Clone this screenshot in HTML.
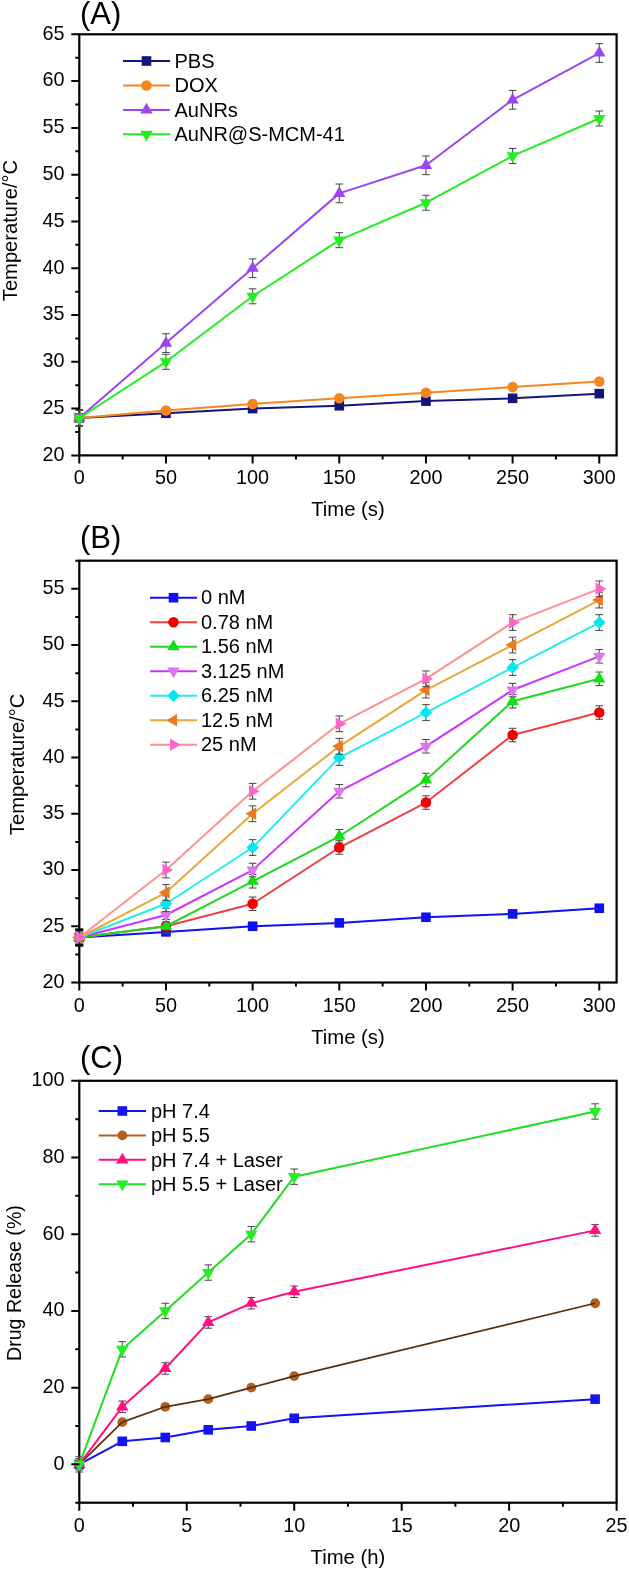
<!DOCTYPE html>
<html><head><meta charset="utf-8"><style>
html,body{margin:0;padding:0;background:#fff;width:629px;height:1572px;overflow:hidden}
svg{display:block}
#w{will-change:transform}
text{font-family:"Liberation Sans", sans-serif}
</style></head><body><div id="w">
<svg width="629" height="1572" viewBox="0 0 629 1572">
<rect width="629" height="1572" fill="#fff"/>
<rect x="79.30" y="34.30" width="537.30" height="421.10" fill="none" stroke="#000" stroke-width="2.2"/>
<path d="M79.30,417.97 L165.96,413.29 L252.62,408.61 L339.28,405.80 L425.95,401.12 L512.61,398.32 L599.27,393.64" stroke="#141480" stroke-width="2" fill="none" stroke-linejoin="round"/>
<rect x="74.50" y="413.17" width="9.60" height="9.60" fill="#141480"/>
<rect x="161.16" y="408.49" width="9.60" height="9.60" fill="#141480"/>
<rect x="247.82" y="403.81" width="9.60" height="9.60" fill="#141480"/>
<rect x="334.48" y="401.00" width="9.60" height="9.60" fill="#141480"/>
<rect x="421.15" y="396.32" width="9.60" height="9.60" fill="#141480"/>
<rect x="507.81" y="393.52" width="9.60" height="9.60" fill="#141480"/>
<rect x="594.47" y="388.84" width="9.60" height="9.60" fill="#141480"/>
<path d="M79.30,417.97 L165.96,410.48 L252.62,403.93 L339.28,398.32 L425.95,392.70 L512.61,387.09 L599.27,381.47" stroke="#f7851f" stroke-width="2" fill="none" stroke-linejoin="round"/>
<circle cx="79.30" cy="417.97" r="5.30" fill="#f7851f"/>
<circle cx="165.96" cy="410.48" r="5.30" fill="#f7851f"/>
<circle cx="252.62" cy="403.93" r="5.30" fill="#f7851f"/>
<circle cx="339.28" cy="398.32" r="5.30" fill="#f7851f"/>
<circle cx="425.95" cy="392.70" r="5.30" fill="#f7851f"/>
<circle cx="512.61" cy="387.09" r="5.30" fill="#f7851f"/>
<circle cx="599.27" cy="381.47" r="5.30" fill="#f7851f"/>
<path d="M79.30,409.55V426.39M75.50,409.55h7.6M75.50,426.39h7.6" stroke="#444" stroke-width="1" fill="none"/>
<path d="M165.96,333.75V352.46M162.16,333.75h7.6M162.16,352.46h7.6" stroke="#444" stroke-width="1" fill="none"/>
<path d="M252.62,258.89V277.60M248.82,258.89h7.6M248.82,277.60h7.6" stroke="#444" stroke-width="1" fill="none"/>
<path d="M339.28,184.02V202.74M335.48,184.02h7.6M335.48,202.74h7.6" stroke="#444" stroke-width="1" fill="none"/>
<path d="M425.95,155.95V174.67M422.15,155.95h7.6M422.15,174.67h7.6" stroke="#444" stroke-width="1" fill="none"/>
<path d="M512.61,90.45V109.16M508.81,90.45h7.6M508.81,109.16h7.6" stroke="#444" stroke-width="1" fill="none"/>
<path d="M599.27,43.66V62.37M595.47,43.66h7.6M595.47,62.37h7.6" stroke="#444" stroke-width="1" fill="none"/>
<path d="M79.30,417.97 L165.96,343.11 L252.62,268.24 L339.28,193.38 L425.95,165.31 L512.61,99.80 L599.27,53.02" stroke="#9b45f2" stroke-width="2" fill="none" stroke-linejoin="round"/>
<path d="M79.30,410.81 L85.50,421.55 L73.10,421.55Z" fill="#9b45f2"/>
<path d="M165.96,335.95 L172.16,346.69 L159.76,346.69Z" fill="#9b45f2"/>
<path d="M252.62,261.09 L258.82,271.82 L246.42,271.82Z" fill="#9b45f2"/>
<path d="M339.28,186.22 L345.48,196.96 L333.08,196.96Z" fill="#9b45f2"/>
<path d="M425.95,158.15 L432.15,168.89 L419.75,168.89Z" fill="#9b45f2"/>
<path d="M512.61,92.65 L518.81,103.38 L506.41,103.38Z" fill="#9b45f2"/>
<path d="M599.27,45.86 L605.47,56.60 L593.07,56.60Z" fill="#9b45f2"/>
<path d="M79.30,410.48V425.46M75.50,410.48h7.6M75.50,425.46h7.6" stroke="#444" stroke-width="1" fill="none"/>
<path d="M165.96,354.34V369.31M162.16,354.34h7.6M162.16,369.31h7.6" stroke="#444" stroke-width="1" fill="none"/>
<path d="M252.62,288.83V303.80M248.82,288.83h7.6M248.82,303.80h7.6" stroke="#444" stroke-width="1" fill="none"/>
<path d="M339.28,232.68V247.66M335.48,232.68h7.6M335.48,247.66h7.6" stroke="#444" stroke-width="1" fill="none"/>
<path d="M425.95,195.25V210.23M422.15,195.25h7.6M422.15,210.23h7.6" stroke="#444" stroke-width="1" fill="none"/>
<path d="M512.61,148.46V163.44M508.81,148.46h7.6M508.81,163.44h7.6" stroke="#444" stroke-width="1" fill="none"/>
<path d="M599.27,111.03V126.01M595.47,111.03h7.6M595.47,126.01h7.6" stroke="#444" stroke-width="1" fill="none"/>
<path d="M79.30,417.97 L165.96,361.82 L252.62,296.32 L339.28,240.17 L425.95,202.74 L512.61,155.95 L599.27,118.52" stroke="#22ee22" stroke-width="2" fill="none" stroke-linejoin="round"/>
<path d="M79.30,425.13 L85.50,414.39 L73.10,414.39Z" fill="#22ee22"/>
<path d="M165.96,368.98 L172.16,358.24 L159.76,358.24Z" fill="#22ee22"/>
<path d="M252.62,303.48 L258.82,292.74 L246.42,292.74Z" fill="#22ee22"/>
<path d="M339.28,247.33 L345.48,236.59 L333.08,236.59Z" fill="#22ee22"/>
<path d="M425.95,209.90 L432.15,199.16 L419.75,199.16Z" fill="#22ee22"/>
<path d="M512.61,163.11 L518.81,152.37 L506.41,152.37Z" fill="#22ee22"/>
<path d="M599.27,125.68 L605.47,114.94 L593.07,114.94Z" fill="#22ee22"/>
<text transform="translate(79.30,484.40)" font-size="19.8" text-anchor="middle" fill="#000">0</text>
<text transform="translate(165.96,484.40)" font-size="19.8" text-anchor="middle" fill="#000">50</text>
<text transform="translate(252.62,484.40)" font-size="19.8" text-anchor="middle" fill="#000">100</text>
<text transform="translate(339.28,484.40)" font-size="19.8" text-anchor="middle" fill="#000">150</text>
<text transform="translate(425.95,484.40)" font-size="19.8" text-anchor="middle" fill="#000">200</text>
<text transform="translate(512.61,484.40)" font-size="19.8" text-anchor="middle" fill="#000">250</text>
<text transform="translate(599.27,484.40)" font-size="19.8" text-anchor="middle" fill="#000">300</text>
<text transform="translate(64.50,460.70)" font-size="19.8" text-anchor="end" fill="#000">20</text>
<text transform="translate(64.50,413.91)" font-size="19.8" text-anchor="end" fill="#000">25</text>
<text transform="translate(64.50,367.12)" font-size="19.8" text-anchor="end" fill="#000">30</text>
<text transform="translate(64.50,320.33)" font-size="19.8" text-anchor="end" fill="#000">35</text>
<text transform="translate(64.50,273.54)" font-size="19.8" text-anchor="end" fill="#000">40</text>
<text transform="translate(64.50,226.76)" font-size="19.8" text-anchor="end" fill="#000">45</text>
<text transform="translate(64.50,179.97)" font-size="19.8" text-anchor="end" fill="#000">50</text>
<text transform="translate(64.50,133.18)" font-size="19.8" text-anchor="end" fill="#000">55</text>
<text transform="translate(64.50,86.39)" font-size="19.8" text-anchor="end" fill="#000">60</text>
<text transform="translate(64.50,39.60)" font-size="19.8" text-anchor="end" fill="#000">65</text>
<path d="M79.30,455.40V463.40M165.96,455.40V463.40M252.62,455.40V463.40M339.28,455.40V463.40M425.95,455.40V463.40M512.61,455.40V463.40M599.27,455.40V463.40M122.63,455.40V459.40M209.29,455.40V459.40M295.95,455.40V459.40M382.61,455.40V459.40M469.28,455.40V459.40M555.94,455.40V459.40M79.30,455.40H71.30M79.30,408.61H71.30M79.30,361.82H71.30M79.30,315.03H71.30M79.30,268.24H71.30M79.30,221.46H71.30M79.30,174.67H71.30M79.30,127.88H71.30M79.30,81.09H71.30M79.30,34.30H71.30M79.30,432.01H75.30M79.30,385.22H75.30M79.30,338.43H75.30M79.30,291.64H75.30M79.30,244.85H75.30M79.30,198.06H75.30M79.30,151.27H75.30M79.30,104.48H75.30M79.30,57.69H75.30" stroke="#000" stroke-width="2" fill="none"/>
<text transform="translate(347.95,516.40)" font-size="20.3" text-anchor="middle" fill="#000">Time (s)</text>
<text transform="translate(17.30,230.50) rotate(-90) scale(0.993,1)" font-size="20.3" text-anchor="middle" fill="#000">Temperature/°C</text>
<text transform="translate(80.00,23.60)" font-size="31" text-anchor="start" fill="#000">(A)</text>
<path d="M123.00,61.00H170.00" stroke="#141480" stroke-width="2"/>
<rect x="141.70" y="56.20" width="9.60" height="9.60" fill="#141480"/>
<text transform="translate(174.50,67.70)" font-size="20.0" text-anchor="start" fill="#000">PBS</text>
<path d="M123.00,85.45H170.00" stroke="#f7851f" stroke-width="2"/>
<circle cx="146.50" cy="85.45" r="5.30" fill="#f7851f"/>
<text transform="translate(174.50,92.15)" font-size="20.0" text-anchor="start" fill="#000">DOX</text>
<path d="M123.00,109.90H170.00" stroke="#9b45f2" stroke-width="2"/>
<path d="M146.50,102.74 L152.70,113.48 L140.30,113.48Z" fill="#9b45f2"/>
<text transform="translate(174.50,116.60)" font-size="20.0" text-anchor="start" fill="#000">AuNRs</text>
<path d="M123.00,134.35H170.00" stroke="#22ee22" stroke-width="2"/>
<path d="M146.50,141.51 L152.70,130.77 L140.30,130.77Z" fill="#22ee22"/>
<text transform="translate(174.50,141.05)" font-size="20.0" text-anchor="start" fill="#000">AuNR@S-MCM-41</text>
<rect x="79.30" y="560.70" width="537.30" height="421.80" fill="none" stroke="#000" stroke-width="2.2"/>
<path d="M79.30,937.51 L165.96,931.88 L252.62,926.26 L339.28,922.89 L425.95,917.26 L512.61,913.89 L599.27,908.26" stroke="#1010f0" stroke-width="2" fill="none" stroke-linejoin="round"/>
<rect x="74.50" y="932.71" width="9.60" height="9.60" fill="#1010f0"/>
<rect x="161.16" y="927.08" width="9.60" height="9.60" fill="#1010f0"/>
<rect x="247.82" y="921.46" width="9.60" height="9.60" fill="#1010f0"/>
<rect x="334.48" y="918.09" width="9.60" height="9.60" fill="#1010f0"/>
<rect x="421.15" y="912.46" width="9.60" height="9.60" fill="#1010f0"/>
<rect x="507.81" y="909.09" width="9.60" height="9.60" fill="#1010f0"/>
<rect x="594.47" y="903.46" width="9.60" height="9.60" fill="#1010f0"/>
<path d="M79.30,930.76V944.26M75.50,930.76h7.6M75.50,944.26h7.6" stroke="#444" stroke-width="1" fill="none"/>
<path d="M165.96,919.51V933.01M162.16,919.51h7.6M162.16,933.01h7.6" stroke="#444" stroke-width="1" fill="none"/>
<path d="M252.62,897.02V910.51M248.82,897.02h7.6M248.82,910.51h7.6" stroke="#444" stroke-width="1" fill="none"/>
<path d="M339.28,840.78V854.27M335.48,840.78h7.6M335.48,854.27h7.6" stroke="#444" stroke-width="1" fill="none"/>
<path d="M425.95,795.78V809.28M422.15,795.78h7.6M422.15,809.28h7.6" stroke="#444" stroke-width="1" fill="none"/>
<path d="M512.61,728.30V741.79M508.81,728.30h7.6M508.81,741.79h7.6" stroke="#444" stroke-width="1" fill="none"/>
<path d="M599.27,705.80V719.30M595.47,705.80h7.6M595.47,719.30h7.6" stroke="#444" stroke-width="1" fill="none"/>
<path d="M79.30,937.51 L165.96,926.26 L252.62,903.76 L339.28,847.52 L425.95,802.53 L512.61,735.04 L599.27,712.55" stroke="#ee4040" stroke-width="2" fill="none" stroke-linejoin="round"/>
<circle cx="79.30" cy="937.51" r="5.30" fill="#f00000"/>
<circle cx="165.96" cy="926.26" r="5.30" fill="#f00000"/>
<circle cx="252.62" cy="903.76" r="5.30" fill="#f00000"/>
<circle cx="339.28" cy="847.52" r="5.30" fill="#f00000"/>
<circle cx="425.95" cy="802.53" r="5.30" fill="#f00000"/>
<circle cx="512.61" cy="735.04" r="5.30" fill="#f00000"/>
<circle cx="599.27" cy="712.55" r="5.30" fill="#f00000"/>
<path d="M79.30,930.76V944.26M75.50,930.76h7.6M75.50,944.26h7.6" stroke="#444" stroke-width="1" fill="none"/>
<path d="M165.96,919.51V933.01M162.16,919.51h7.6M162.16,933.01h7.6" stroke="#444" stroke-width="1" fill="none"/>
<path d="M252.62,874.52V888.02M248.82,874.52h7.6M248.82,888.02h7.6" stroke="#444" stroke-width="1" fill="none"/>
<path d="M339.28,829.53V843.02M335.48,829.53h7.6M335.48,843.02h7.6" stroke="#444" stroke-width="1" fill="none"/>
<path d="M425.95,773.29V786.78M422.15,773.29h7.6M422.15,786.78h7.6" stroke="#444" stroke-width="1" fill="none"/>
<path d="M512.61,694.55V708.05M508.81,694.55h7.6M508.81,708.05h7.6" stroke="#444" stroke-width="1" fill="none"/>
<path d="M599.27,672.06V685.55M595.47,672.06h7.6M595.47,685.55h7.6" stroke="#444" stroke-width="1" fill="none"/>
<path d="M79.30,937.51 L165.96,926.26 L252.62,881.27 L339.28,836.28 L425.95,780.04 L512.61,701.30 L599.27,678.80" stroke="#20d820" stroke-width="2" fill="none" stroke-linejoin="round"/>
<path d="M79.30,930.35 L85.50,941.09 L73.10,941.09Z" fill="#10e010"/>
<path d="M165.96,919.10 L172.16,929.84 L159.76,929.84Z" fill="#10e010"/>
<path d="M252.62,874.11 L258.82,884.85 L246.42,884.85Z" fill="#10e010"/>
<path d="M339.28,829.12 L345.48,839.86 L333.08,839.86Z" fill="#10e010"/>
<path d="M425.95,772.88 L432.15,783.62 L419.75,783.62Z" fill="#10e010"/>
<path d="M512.61,694.14 L518.81,704.88 L506.41,704.88Z" fill="#10e010"/>
<path d="M599.27,671.65 L605.47,682.38 L593.07,682.38Z" fill="#10e010"/>
<path d="M79.30,930.76V944.26M75.50,930.76h7.6M75.50,944.26h7.6" stroke="#444" stroke-width="1" fill="none"/>
<path d="M165.96,908.26V921.76M162.16,908.26h7.6M162.16,921.76h7.6" stroke="#444" stroke-width="1" fill="none"/>
<path d="M252.62,863.27V876.77M248.82,863.27h7.6M248.82,876.77h7.6" stroke="#444" stroke-width="1" fill="none"/>
<path d="M339.28,784.54V798.03M335.48,784.54h7.6M335.48,798.03h7.6" stroke="#444" stroke-width="1" fill="none"/>
<path d="M425.95,739.54V753.04M422.15,739.54h7.6M422.15,753.04h7.6" stroke="#444" stroke-width="1" fill="none"/>
<path d="M512.61,683.30V696.80M508.81,683.30h7.6M508.81,696.80h7.6" stroke="#444" stroke-width="1" fill="none"/>
<path d="M599.27,649.56V663.06M595.47,649.56h7.6M595.47,663.06h7.6" stroke="#444" stroke-width="1" fill="none"/>
<path d="M79.30,937.51 L165.96,915.01 L252.62,870.02 L339.28,791.28 L425.95,746.29 L512.61,690.05 L599.27,656.31" stroke="#cc33ff" stroke-width="2" fill="none" stroke-linejoin="round"/>
<path d="M79.30,944.67 L85.50,933.93 L73.10,933.93Z" fill="#dd77ee"/>
<path d="M165.96,922.17 L172.16,911.43 L159.76,911.43Z" fill="#dd77ee"/>
<path d="M252.62,877.18 L258.82,866.44 L246.42,866.44Z" fill="#dd77ee"/>
<path d="M339.28,798.44 L345.48,787.70 L333.08,787.70Z" fill="#dd77ee"/>
<path d="M425.95,753.45 L432.15,742.71 L419.75,742.71Z" fill="#dd77ee"/>
<path d="M512.61,697.21 L518.81,686.47 L506.41,686.47Z" fill="#dd77ee"/>
<path d="M599.27,663.47 L605.47,652.73 L593.07,652.73Z" fill="#dd77ee"/>
<path d="M79.30,929.63V945.38M75.50,929.63h7.6M75.50,945.38h7.6" stroke="#444" stroke-width="1" fill="none"/>
<path d="M165.96,895.89V911.64M162.16,895.89h7.6M162.16,911.64h7.6" stroke="#444" stroke-width="1" fill="none"/>
<path d="M252.62,839.65V855.40M248.82,839.65h7.6M248.82,855.40h7.6" stroke="#444" stroke-width="1" fill="none"/>
<path d="M339.28,749.67V765.41M335.48,749.67h7.6M335.48,765.41h7.6" stroke="#444" stroke-width="1" fill="none"/>
<path d="M425.95,704.67V720.42M422.15,704.67h7.6M422.15,720.42h7.6" stroke="#444" stroke-width="1" fill="none"/>
<path d="M512.61,659.68V675.43M508.81,659.68h7.6M508.81,675.43h7.6" stroke="#444" stroke-width="1" fill="none"/>
<path d="M599.27,614.69V630.44M595.47,614.69h7.6M595.47,630.44h7.6" stroke="#444" stroke-width="1" fill="none"/>
<path d="M79.30,937.51 L165.96,903.76 L252.62,847.52 L339.28,757.54 L425.95,712.55 L512.61,667.56 L599.27,622.56" stroke="#22eeee" stroke-width="2" fill="none" stroke-linejoin="round"/>
<path d="M79.30,931.26 L85.55,937.51 L79.30,943.76 L73.05,937.51Z" fill="#00e8f0"/>
<path d="M165.96,897.51 L172.21,903.76 L165.96,910.01 L159.71,903.76Z" fill="#00e8f0"/>
<path d="M252.62,841.27 L258.87,847.52 L252.62,853.77 L246.37,847.52Z" fill="#00e8f0"/>
<path d="M339.28,751.29 L345.53,757.54 L339.28,763.79 L333.03,757.54Z" fill="#00e8f0"/>
<path d="M425.95,706.30 L432.20,712.55 L425.95,718.80 L419.70,712.55Z" fill="#00e8f0"/>
<path d="M512.61,661.31 L518.86,667.56 L512.61,673.81 L506.36,667.56Z" fill="#00e8f0"/>
<path d="M599.27,616.31 L605.52,622.56 L599.27,628.81 L593.02,622.56Z" fill="#00e8f0"/>
<path d="M79.30,929.63V945.38M75.50,929.63h7.6M75.50,945.38h7.6" stroke="#444" stroke-width="1" fill="none"/>
<path d="M165.96,884.64V900.39M162.16,884.64h7.6M162.16,900.39h7.6" stroke="#444" stroke-width="1" fill="none"/>
<path d="M252.62,805.91V821.65M248.82,805.91h7.6M248.82,821.65h7.6" stroke="#444" stroke-width="1" fill="none"/>
<path d="M339.28,738.42V754.17M335.48,738.42h7.6M335.48,754.17h7.6" stroke="#444" stroke-width="1" fill="none"/>
<path d="M425.95,682.18V697.93M422.15,682.18h7.6M422.15,697.93h7.6" stroke="#444" stroke-width="1" fill="none"/>
<path d="M512.61,637.19V652.93M508.81,637.19h7.6M508.81,652.93h7.6" stroke="#444" stroke-width="1" fill="none"/>
<path d="M599.27,592.19V607.94M595.47,592.19h7.6M595.47,607.94h7.6" stroke="#444" stroke-width="1" fill="none"/>
<path d="M79.30,937.51 L165.96,892.52 L252.62,813.78 L339.28,746.29 L425.95,690.05 L512.61,645.06 L599.27,600.07" stroke="#e8a838" stroke-width="2" fill="none" stroke-linejoin="round"/>
<path d="M72.14,937.51 L82.88,931.31 L82.88,943.71Z" fill="#ee7722"/>
<path d="M158.80,892.52 L169.54,886.32 L169.54,898.72Z" fill="#ee7722"/>
<path d="M245.46,813.78 L256.20,807.58 L256.20,819.98Z" fill="#ee7722"/>
<path d="M332.12,746.29 L342.86,740.09 L342.86,752.49Z" fill="#ee7722"/>
<path d="M418.79,690.05 L429.52,683.85 L429.52,696.25Z" fill="#ee7722"/>
<path d="M505.45,645.06 L516.19,638.86 L516.19,651.26Z" fill="#ee7722"/>
<path d="M592.11,600.07 L602.85,593.87 L602.85,606.27Z" fill="#ee7722"/>
<path d="M79.30,929.63V945.38M75.50,929.63h7.6M75.50,945.38h7.6" stroke="#444" stroke-width="1" fill="none"/>
<path d="M165.96,862.15V877.89M162.16,862.15h7.6M162.16,877.89h7.6" stroke="#444" stroke-width="1" fill="none"/>
<path d="M252.62,783.41V799.16M248.82,783.41h7.6M248.82,799.16h7.6" stroke="#444" stroke-width="1" fill="none"/>
<path d="M339.28,715.92V731.67M335.48,715.92h7.6M335.48,731.67h7.6" stroke="#444" stroke-width="1" fill="none"/>
<path d="M425.95,670.93V686.68M422.15,670.93h7.6M422.15,686.68h7.6" stroke="#444" stroke-width="1" fill="none"/>
<path d="M512.61,614.69V630.44M508.81,614.69h7.6M508.81,630.44h7.6" stroke="#444" stroke-width="1" fill="none"/>
<path d="M599.27,580.95V596.69M595.47,580.95h7.6M595.47,596.69h7.6" stroke="#444" stroke-width="1" fill="none"/>
<path d="M79.30,937.51 L165.96,870.02 L252.62,791.28 L339.28,723.80 L425.95,678.80 L512.61,622.56 L599.27,588.82" stroke="#ff9090" stroke-width="2" fill="none" stroke-linejoin="round"/>
<path d="M86.46,937.51 L75.72,931.31 L75.72,943.71Z" fill="#ff66cc"/>
<path d="M173.12,870.02 L162.38,863.82 L162.38,876.22Z" fill="#ff66cc"/>
<path d="M259.78,791.28 L249.04,785.08 L249.04,797.48Z" fill="#ff66cc"/>
<path d="M346.44,723.80 L335.70,717.60 L335.70,730.00Z" fill="#ff66cc"/>
<path d="M433.10,678.80 L422.37,672.60 L422.37,685.00Z" fill="#ff66cc"/>
<path d="M519.77,622.56 L509.03,616.36 L509.03,628.76Z" fill="#ff66cc"/>
<path d="M606.43,588.82 L595.69,582.62 L595.69,595.02Z" fill="#ff66cc"/>
<path d="M75.3,929.7h8M75.3,945.3h8" stroke="#111" stroke-width="3"/>
<text transform="translate(79.30,1011.50)" font-size="19.8" text-anchor="middle" fill="#000">0</text>
<text transform="translate(165.96,1011.50)" font-size="19.8" text-anchor="middle" fill="#000">50</text>
<text transform="translate(252.62,1011.50)" font-size="19.8" text-anchor="middle" fill="#000">100</text>
<text transform="translate(339.28,1011.50)" font-size="19.8" text-anchor="middle" fill="#000">150</text>
<text transform="translate(425.95,1011.50)" font-size="19.8" text-anchor="middle" fill="#000">200</text>
<text transform="translate(512.61,1011.50)" font-size="19.8" text-anchor="middle" fill="#000">250</text>
<text transform="translate(599.27,1011.50)" font-size="19.8" text-anchor="middle" fill="#000">300</text>
<text transform="translate(64.50,987.80)" font-size="19.8" text-anchor="end" fill="#000">20</text>
<text transform="translate(64.50,931.56)" font-size="19.8" text-anchor="end" fill="#000">25</text>
<text transform="translate(64.50,875.32)" font-size="19.8" text-anchor="end" fill="#000">30</text>
<text transform="translate(64.50,819.08)" font-size="19.8" text-anchor="end" fill="#000">35</text>
<text transform="translate(64.50,762.84)" font-size="19.8" text-anchor="end" fill="#000">40</text>
<text transform="translate(64.50,706.60)" font-size="19.8" text-anchor="end" fill="#000">45</text>
<text transform="translate(64.50,650.36)" font-size="19.8" text-anchor="end" fill="#000">50</text>
<text transform="translate(64.50,594.12)" font-size="19.8" text-anchor="end" fill="#000">55</text>
<path d="M79.30,982.50V990.50M165.96,982.50V990.50M252.62,982.50V990.50M339.28,982.50V990.50M425.95,982.50V990.50M512.61,982.50V990.50M599.27,982.50V990.50M122.63,982.50V986.50M209.29,982.50V986.50M295.95,982.50V986.50M382.61,982.50V986.50M469.28,982.50V986.50M555.94,982.50V986.50M79.30,982.50H71.30M79.30,926.26H71.30M79.30,870.02H71.30M79.30,813.78H71.30M79.30,757.54H71.30M79.30,701.30H71.30M79.30,645.06H71.30M79.30,588.82H71.30M79.30,954.38H75.30M79.30,898.14H75.30M79.30,841.90H75.30M79.30,785.66H75.30M79.30,729.42H75.30M79.30,673.18H75.30M79.30,616.94H75.30M79.30,560.70H75.30" stroke="#000" stroke-width="2" fill="none"/>
<text transform="translate(347.95,1043.50)" font-size="20.3" text-anchor="middle" fill="#000">Time (s)</text>
<text transform="translate(24.20,764.40) rotate(-90) scale(0.995,1)" font-size="20.3" text-anchor="middle" fill="#000">Temperature/°C</text>
<text transform="translate(80.00,548.00)" font-size="31" text-anchor="start" fill="#000">(B)</text>
<path d="M150.00,597.70H197.00" stroke="#1010f0" stroke-width="2"/>
<rect x="168.70" y="592.90" width="9.60" height="9.60" fill="#1010f0"/>
<text transform="translate(201.00,604.40)" font-size="20.0" text-anchor="start" fill="#000">0 nM</text>
<path d="M150.00,622.20H197.00" stroke="#ee4040" stroke-width="2"/>
<circle cx="173.50" cy="622.20" r="5.30" fill="#f00000"/>
<text transform="translate(201.00,628.90)" font-size="20.0" text-anchor="start" fill="#000">0.78 nM</text>
<path d="M150.00,646.70H197.00" stroke="#20d820" stroke-width="2"/>
<path d="M173.50,639.54 L179.70,650.28 L167.30,650.28Z" fill="#10e010"/>
<text transform="translate(201.00,653.40)" font-size="20.0" text-anchor="start" fill="#000">1.56 nM</text>
<path d="M150.00,671.20H197.00" stroke="#cc33ff" stroke-width="2"/>
<path d="M173.50,678.36 L179.70,667.62 L167.30,667.62Z" fill="#dd77ee"/>
<text transform="translate(201.00,677.90)" font-size="20.0" text-anchor="start" fill="#000">3.125 nM</text>
<path d="M150.00,695.70H197.00" stroke="#22eeee" stroke-width="2"/>
<path d="M173.50,689.45 L179.75,695.70 L173.50,701.95 L167.25,695.70Z" fill="#00e8f0"/>
<text transform="translate(201.00,702.40)" font-size="20.0" text-anchor="start" fill="#000">6.25 nM</text>
<path d="M150.00,720.20H197.00" stroke="#e8a838" stroke-width="2"/>
<path d="M166.34,720.20 L177.08,714.00 L177.08,726.40Z" fill="#ee7722"/>
<text transform="translate(201.00,726.90)" font-size="20.0" text-anchor="start" fill="#000">12.5 nM</text>
<path d="M150.00,744.70H197.00" stroke="#ff9090" stroke-width="2"/>
<path d="M180.66,744.70 L169.92,738.50 L169.92,750.90Z" fill="#ff66cc"/>
<text transform="translate(201.00,751.40)" font-size="20.0" text-anchor="start" fill="#000">25 nM</text>
<rect x="79.30" y="1080.80" width="537.30" height="421.90" fill="none" stroke="#000" stroke-width="2.2"/>
<path d="M79.30,1464.35 L122.28,1441.33 L165.27,1437.50 L208.25,1429.83 L251.24,1425.99 L294.22,1418.32 L595.11,1399.14" stroke="#1414f0" stroke-width="2" fill="none" stroke-linejoin="round"/>
<rect x="74.50" y="1459.55" width="9.60" height="9.60" fill="#1414f0"/>
<rect x="117.48" y="1436.53" width="9.60" height="9.60" fill="#1414f0"/>
<rect x="160.47" y="1432.70" width="9.60" height="9.60" fill="#1414f0"/>
<rect x="203.45" y="1425.03" width="9.60" height="9.60" fill="#1414f0"/>
<rect x="246.44" y="1421.19" width="9.60" height="9.60" fill="#1414f0"/>
<rect x="289.42" y="1413.52" width="9.60" height="9.60" fill="#1414f0"/>
<rect x="590.31" y="1394.34" width="9.60" height="9.60" fill="#1414f0"/>
<circle cx="79.30" cy="1464.35" r="4.90" fill="#b5601a"/>
<circle cx="122.28" cy="1422.16" r="4.90" fill="#b5601a"/>
<circle cx="165.27" cy="1406.81" r="4.90" fill="#b5601a"/>
<circle cx="208.25" cy="1399.14" r="4.90" fill="#b5601a"/>
<circle cx="251.24" cy="1387.64" r="4.90" fill="#b5601a"/>
<circle cx="294.22" cy="1376.13" r="4.90" fill="#b5601a"/>
<circle cx="595.11" cy="1303.26" r="4.90" fill="#b5601a"/>
<path d="M79.30,1464.35 L122.28,1422.16 L165.27,1406.81 L208.25,1399.14 L251.24,1387.64 L294.22,1376.13 L595.11,1303.26" stroke="#5c2c0c" stroke-width="1.7" fill="none" stroke-linejoin="round"/>
<path d="M79.30,1458.59V1470.10M75.50,1458.59h7.6M75.50,1470.10h7.6" stroke="#444" stroke-width="1" fill="none"/>
<path d="M122.28,1401.06V1412.57M118.48,1401.06h7.6M118.48,1412.57h7.6" stroke="#444" stroke-width="1" fill="none"/>
<path d="M165.27,1362.71V1374.21M161.47,1362.71h7.6M161.47,1374.21h7.6" stroke="#444" stroke-width="1" fill="none"/>
<path d="M208.25,1316.68V1328.19M204.45,1316.68h7.6M204.45,1328.19h7.6" stroke="#444" stroke-width="1" fill="none"/>
<path d="M251.24,1297.50V1309.01M247.44,1297.50h7.6M247.44,1309.01h7.6" stroke="#444" stroke-width="1" fill="none"/>
<path d="M294.22,1286.00V1297.50M290.42,1286.00h7.6M290.42,1297.50h7.6" stroke="#444" stroke-width="1" fill="none"/>
<path d="M595.11,1224.63V1236.14M591.31,1224.63h7.6M591.31,1236.14h7.6" stroke="#444" stroke-width="1" fill="none"/>
<path d="M79.30,1464.35 L122.28,1406.81 L165.27,1368.46 L208.25,1322.43 L251.24,1303.26 L294.22,1291.75 L595.11,1230.38" stroke="#ff1080" stroke-width="2" fill="none" stroke-linejoin="round"/>
<path d="M79.30,1457.19 L85.50,1467.92 L73.10,1467.92Z" fill="#ff1080"/>
<path d="M122.28,1399.65 L128.48,1410.39 L116.08,1410.39Z" fill="#ff1080"/>
<path d="M165.27,1361.30 L171.47,1372.04 L159.07,1372.04Z" fill="#ff1080"/>
<path d="M208.25,1315.27 L214.45,1326.01 L202.05,1326.01Z" fill="#ff1080"/>
<path d="M251.24,1296.10 L257.44,1306.84 L245.04,1306.84Z" fill="#ff1080"/>
<path d="M294.22,1284.59 L300.42,1295.33 L288.02,1295.33Z" fill="#ff1080"/>
<path d="M595.11,1223.22 L601.31,1233.96 L588.91,1233.96Z" fill="#ff1080"/>
<path d="M79.30,1456.67V1472.02M75.50,1456.67h7.6M75.50,1472.02h7.6" stroke="#444" stroke-width="1" fill="none"/>
<path d="M122.28,1341.61V1356.95M118.48,1341.61h7.6M118.48,1356.95h7.6" stroke="#444" stroke-width="1" fill="none"/>
<path d="M165.27,1303.26V1318.60M161.47,1303.26h7.6M161.47,1318.60h7.6" stroke="#444" stroke-width="1" fill="none"/>
<path d="M208.25,1264.90V1280.24M204.45,1264.90h7.6M204.45,1280.24h7.6" stroke="#444" stroke-width="1" fill="none"/>
<path d="M251.24,1226.55V1241.89M247.44,1226.55h7.6M247.44,1241.89h7.6" stroke="#444" stroke-width="1" fill="none"/>
<path d="M294.22,1169.02V1184.36M290.42,1169.02h7.6M290.42,1184.36h7.6" stroke="#444" stroke-width="1" fill="none"/>
<path d="M595.11,1103.81V1119.15M591.31,1103.81h7.6M591.31,1119.15h7.6" stroke="#444" stroke-width="1" fill="none"/>
<path d="M79.30,1464.35 L122.28,1349.28 L165.27,1310.93 L208.25,1272.57 L251.24,1234.22 L294.22,1176.69 L595.11,1111.48" stroke="#22dd22" stroke-width="2" fill="none" stroke-linejoin="round"/>
<path d="M79.30,1471.50 L85.50,1460.77 L73.10,1460.77Z" fill="#22ee22"/>
<path d="M122.28,1356.44 L128.48,1345.70 L116.08,1345.70Z" fill="#22ee22"/>
<path d="M165.27,1318.09 L171.47,1307.35 L159.07,1307.35Z" fill="#22ee22"/>
<path d="M208.25,1279.73 L214.45,1268.99 L202.05,1268.99Z" fill="#22ee22"/>
<path d="M251.24,1241.38 L257.44,1230.64 L245.04,1230.64Z" fill="#22ee22"/>
<path d="M294.22,1183.85 L300.42,1173.11 L288.02,1173.11Z" fill="#22ee22"/>
<path d="M595.11,1118.64 L601.31,1107.90 L588.91,1107.90Z" fill="#22ee22"/>
<text transform="translate(79.30,1531.70)" font-size="19.8" text-anchor="middle" fill="#000">0</text>
<text transform="translate(186.76,1531.70)" font-size="19.8" text-anchor="middle" fill="#000">5</text>
<text transform="translate(294.22,1531.70)" font-size="19.8" text-anchor="middle" fill="#000">10</text>
<text transform="translate(401.68,1531.70)" font-size="19.8" text-anchor="middle" fill="#000">15</text>
<text transform="translate(509.14,1531.70)" font-size="19.8" text-anchor="middle" fill="#000">20</text>
<text transform="translate(616.60,1531.70)" font-size="19.8" text-anchor="middle" fill="#000">25</text>
<text transform="translate(64.50,1469.65)" font-size="19.8" text-anchor="end" fill="#000">0</text>
<text transform="translate(64.50,1392.94)" font-size="19.8" text-anchor="end" fill="#000">20</text>
<text transform="translate(64.50,1316.23)" font-size="19.8" text-anchor="end" fill="#000">40</text>
<text transform="translate(64.50,1239.52)" font-size="19.8" text-anchor="end" fill="#000">60</text>
<text transform="translate(64.50,1162.81)" font-size="19.8" text-anchor="end" fill="#000">80</text>
<text transform="translate(64.50,1086.10)" font-size="19.8" text-anchor="end" fill="#000">100</text>
<path d="M79.30,1502.70V1510.70M186.76,1502.70V1510.70M294.22,1502.70V1510.70M401.68,1502.70V1510.70M509.14,1502.70V1510.70M616.60,1502.70V1510.70M133.03,1502.70V1506.70M240.49,1502.70V1506.70M347.95,1502.70V1506.70M455.41,1502.70V1506.70M562.87,1502.70V1506.70M79.30,1464.35H71.30M79.30,1387.64H71.30M79.30,1310.93H71.30M79.30,1234.22H71.30M79.30,1157.51H71.30M79.30,1080.80H71.30M79.30,1502.70H75.30M79.30,1425.99H75.30M79.30,1349.28H75.30M79.30,1272.57H75.30M79.30,1195.86H75.30M79.30,1119.15H75.30" stroke="#000" stroke-width="2" fill="none"/>
<text transform="translate(347.95,1563.70)" font-size="20.3" text-anchor="middle" fill="#000">Time (h)</text>
<text transform="translate(21.00,1283.10) rotate(-90) scale(0.967,1)" font-size="20.3" text-anchor="middle" fill="#000">Drug Release (%)</text>
<text transform="translate(80.00,1068.30)" font-size="31" text-anchor="start" fill="#000">(C)</text>
<path d="M98.70,1111.00H146.00" stroke="#1414f0" stroke-width="2"/>
<rect x="117.55" y="1106.20" width="9.60" height="9.60" fill="#1414f0"/>
<text transform="translate(151.00,1117.70)" font-size="20.0" text-anchor="start" fill="#000">pH 7.4</text>
<path d="M98.70,1135.40H146.00" stroke="#b5601a" stroke-width="2"/>
<circle cx="122.35" cy="1135.40" r="4.90" fill="#b5601a"/>
<text transform="translate(151.00,1142.10)" font-size="20.0" text-anchor="start" fill="#000">pH 5.5</text>
<path d="M98.70,1159.80H146.00" stroke="#ff1080" stroke-width="2"/>
<path d="M122.35,1152.64 L128.55,1163.38 L116.15,1163.38Z" fill="#ff1080"/>
<text transform="translate(151.00,1166.50)" font-size="20.0" text-anchor="start" fill="#000">pH 7.4 + Laser</text>
<path d="M98.70,1184.20H146.00" stroke="#22dd22" stroke-width="2"/>
<path d="M122.35,1191.36 L128.55,1180.62 L116.15,1180.62Z" fill="#22ee22"/>
<text transform="translate(151.00,1190.90)" font-size="20.0" text-anchor="start" fill="#000">pH 5.5 + Laser</text>
</svg></div></body></html>
